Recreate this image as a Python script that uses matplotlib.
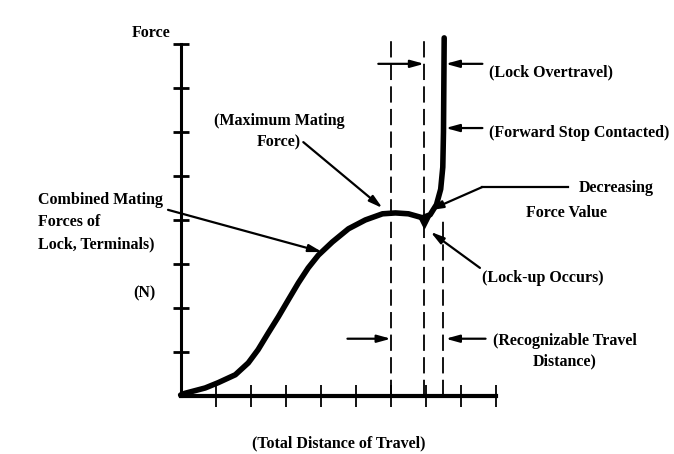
import matplotlib.pyplot as plt

# force-travel curve (x: tick units, y: tick units)
travel = [0, 0.13, 0.7, 1.07, 1.56, 1.93, 2.21, 2.5, 2.79, 3.07, 3.36, 3.64,
          3.93, 4.33, 4.79, 5.27, 5.76, 6.13, 6.5, 6.9, 7.12, 7.3, 7.42,
          7.48, 7.5, 7.52]
force = [0.02, 0.06, 0.18, 0.3, 0.48, 0.75, 1.05, 1.43, 1.8, 2.18, 2.57, 2.91,
         3.2, 3.5, 3.8, 4.0, 4.14, 4.16, 4.14, 4.05, 4.12, 4.35, 4.7,
         5.2, 6.0, 8.14]

x_ticks = [1, 2, 3, 4, 5, 6, 7, 8, 9]
y_ticks = [1, 2, 3, 4, 5, 6, 7, 8]

# dashed guide lines: lock-up start, lock-up end, forward stop
guide_x = [6.0, 6.95, 7.5]
guide_top = [8.14, 8.14, 4.1]

plt.rcParams['font.family'] = ['Liberation Serif', 'DejaVu Serif']
FS = 11.5
FW = 'bold'

fig = plt.figure(figsize=(6.74, 4.54), dpi=100)
ax = fig.add_axes([0.268, 0.128, 0.468, 0.775])
ax.set_xlim(0, 9)
ax.set_ylim(0, 8)

for s in ['top', 'right']:
    ax.spines[s].set_visible(False)
ax.spines['bottom'].set_linewidth(3)
ax.spines['left'].set_linewidth(2.2)
ax.set_xticks(x_ticks)
ax.set_yticks(y_ticks)
ax.set_xticklabels([])
ax.set_yticklabels([])
ax.tick_params(axis='x', direction='inout', length=16, width=1.3)
ax.tick_params(axis='y', direction='inout', length=12, width=2)

# curve
ax.plot(travel, force, color='black', lw=4, solid_capstyle='round',
        solid_joinstyle='round', clip_on=False, zorder=4)

# dashed guides
for gx, gt in zip(guide_x, guide_top):
    ax.plot([gx, gx], [0, gt], color='black', lw=1.3, dashes=(9, 3.5),
            clip_on=False, zorder=2)

# lock-up marker
ax.plot([6.93], [3.95], marker='v', color='black', markersize=9,
        clip_on=False, zorder=5)

arrow = dict(arrowstyle='-|>,head_length=0.8,head_width=0.22', color='black',
             lw=1.6, shrinkA=0, shrinkB=0)


def arr(x0, y0, x1, y1):
    ax.annotate('', xy=(x1, y1), xytext=(x0, y0), arrowprops=arrow,
                annotation_clip=False)


arr(-0.36, 4.23, 4.04, 3.27)     # combined mating forces
arr(3.5, 5.77, 5.76, 4.27)       # maximum mating force
arr(5.64, 7.55, 6.95, 7.55)      # lock overtravel, left
arr(8.61, 7.55, 7.56, 7.55)      # lock overtravel, right
arr(8.61, 6.09, 7.56, 6.09)      # forward stop contacted
arr(8.54, 2.91, 7.13, 3.73)      # lock-up occurs
arr(4.76, 1.3, 6.0, 1.3)         # recognizable travel, left
arr(8.7, 1.3, 7.56, 1.3)         # recognizable travel, right
ax.plot([11.04, 8.61], [4.75, 4.75], color='black', lw=1.6, clip_on=False)
arr(8.61, 4.75, 7.1, 4.22)       # decreasing force value

txt = dict(fontsize=FS, fontweight=FW, clip_on=False)
ax.text(-0.3, 8.25, 'Force', ha='right', va='center', **txt)
ax.text(-4.07, 3.95, 'Combined Mating\nForces of\nLock, Terminals)',
        ha='left', va='center', linespacing=1.5, **txt)
ax.text(-1.04, 2.34, '(N)', ha='center', va='center', **txt)
ax.text(2.81, 6.01, '(Maximum Mating\nForce)', ha='center', va='center',
        multialignment='center', linespacing=1.5, **txt)
ax.text(8.79, 7.36, '(Lock Overtravel)', ha='left', va='center', **txt)
ax.text(8.79, 5.98, '(Forward Stop Contacted)', ha='left', va='center', **txt)
ax.text(12.44, 4.73, 'Decreasing', ha='center', va='center', **txt)
ax.text(11.01, 4.16, 'Force Value', ha='center', va='center', **txt)
ax.text(8.61, 2.68, '(Lock-up Occurs)', ha='left', va='center', **txt)
ax.text(10.96, 1.01, '(Recognizable Travel\nDistance)', ha='center',
        va='center', multialignment='center', linespacing=1.4, **txt)
ax.text(4.5, -1.07, '(Total Distance of Travel)', ha='center', va='center',
        **txt)

fig.savefig('out.png', dpi=100)
